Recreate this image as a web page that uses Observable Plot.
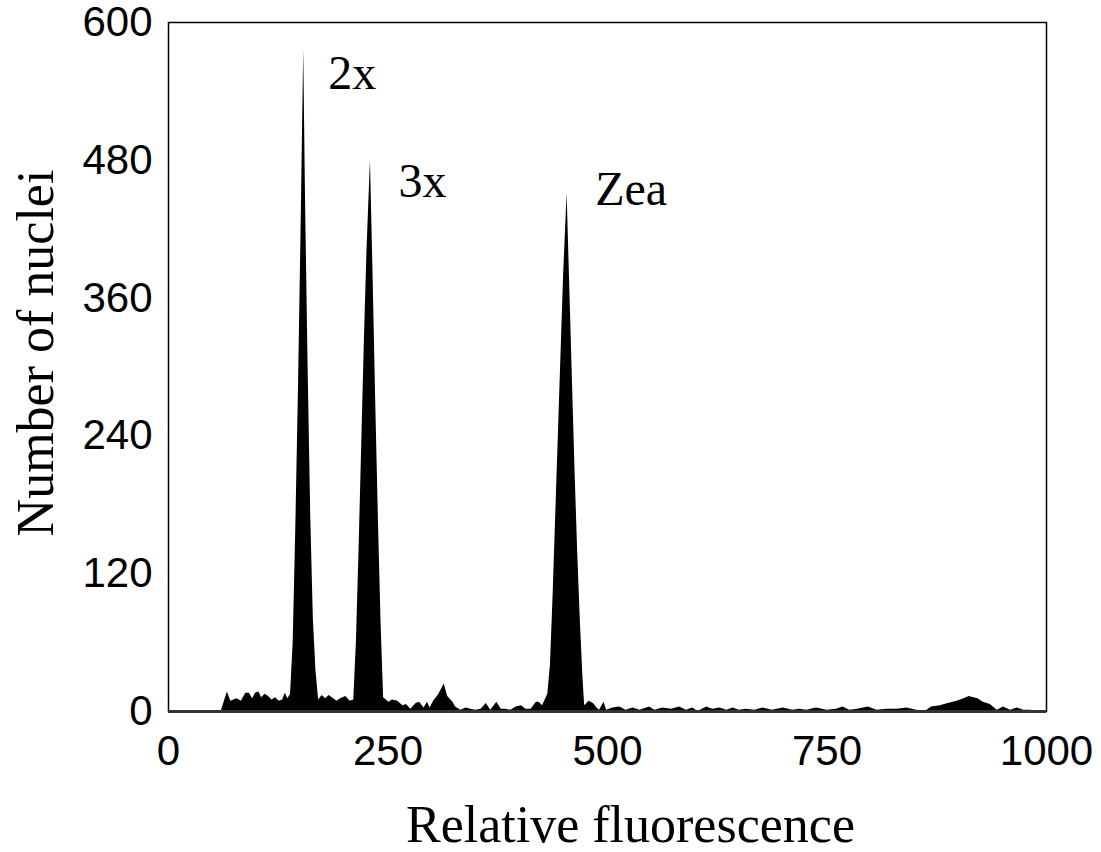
<!DOCTYPE html>
<html>
<head>
<meta charset="utf-8">
<script src="https://cdn.jsdelivr.net/npm/d3@7"></script>
<script src="https://cdn.jsdelivr.net/npm/@observablehq/plot@0.6"></script>
<style>
  html, body { margin: 0; padding: 0; background: white; }
</style>
</head>
<body>
<div id="chart"></div>
<script>
// Relative fluorescence channel and number of nuclei
const channel = [0,60,67,71,78,83,88,92,96,99,103,106,110,114,118,122,126,130,133,136,
  139,142,145,148,151,154,156,159,162,165,168,171,
  175,179,183,188,192,196,202,207,
  211,214,217,220,223,226,230,233,236,239,242,245,
  251,255,261,267,271,276,282,286,291,295,298,302,308,314,318,324,327,333,339,344,350,356,362,367,374,379,384,390,396,402,407,413,419,422,426,
  432,435,438,441,444,447,450,454,457,460,463,466,469,472,474,
  479,484,488,491,496,499,506,514,521,529,537,548,554,563,573,582,590,597,603,613,620,628,636,643,650,658,668,677,688,700,711,719,727,738,750,761,768,776,785,797,807,818,830,841,852,862,869,879,888,898,906,912,917,922,928,936,944,951,959,967,974,982,990,995];
const nuclei = [0,0,17,9,11,9,16,16,11,16,17,12,15,13,10,12,9,10,16,11,
  15,60,160,280,420,576,450,300,170,80,35,10,
  14,11,14,11,9,11,13,9,
  10,60,140,230,320,400,480,380,270,170,80,12,
  8,10,9,5,6,2,7,8,3,8,3,9,15,24,13,8,4,1,3,2,1,2,7,1,8,2,2,1,4,5,2,2,8,8,5,
  15,40,100,170,240,310,380,451,370,290,210,140,80,30,5,
  9,7,3,1,8,1,3,4,1,3,1,4,1,3,2,4,1,3,0,4,2,3,1,3,1,2,1,3,1,3,1,2,1,3,1,2,4,1,2,4,1,2,2,3,1,0,4,5,7,9,11,13,12,11,8,6,1,4,1,3,1,1,0,0];

const xTicks = [0, 250, 500, 750, 1000];
const yTicks = [0, 120, 240, 360, 480, 600];

const peakLabels = ["2x", "3x", "Zea"];
const peakLabelX = [182, 262, 486];
const peakLabelY = [542, 448, 441];

const xTitle = "Relative fluorescence";
const yTitle = "Number of nuclei";

const histogram = channel.map((c, i) => ({channel: c, nuclei: nuclei[i]}));
const labels = peakLabels.map((t, i) => ({text: t, x: peakLabelX[i], y: peakLabelY[i]}));

const sans = "'Liberation Sans', Arial, sans-serif";
const serif = "'Liberation Serif', 'Times New Roman', serif";

const chart = Plot.plot({
  width: 1101,
  height: 852,
  marginLeft: 168,
  marginRight: 55,
  marginTop: 22,
  marginBottom: 141,
  style: {background: "white", color: "black"},
  x: {domain: [0, 1000]},
  y: {domain: [0, 600]},
  marks: [
    Plot.areaY(histogram, {x: "channel", y: "nuclei", fill: "black", curve: "linear"}),
    Plot.frame({stroke: "black", strokeWidth: 1.5}),
    Plot.ruleY([0], {stroke: "#333", strokeWidth: 3}),
    Plot.axisX({ticks: xTicks, tickFormat: d => String(d), tickSize: 0, tickPadding: 24, label: null, fontSize: 42, fontFamily: sans}),
    Plot.axisY({ticks: yTicks, tickFormat: d => String(d), tickSize: 0, tickPadding: 16, label: null, fontSize: 42, fontFamily: sans}),
    Plot.text(labels, {x: "x", y: "y", text: "text", textAnchor: "start", lineAnchor: "bottom", fontSize: 48, fontFamily: serif}),
    Plot.text([xTitle], {frameAnchor: "bottom", textAnchor: "middle", dx: 23, dy: 130, lineAnchor: "bottom", fontSize: 52, fontFamily: serif}),
    Plot.text([yTitle], {frameAnchor: "left", textAnchor: "middle", rotate: -90, dx: -116, dy: -14, lineAnchor: "bottom", fontSize: 52, fontFamily: serif})
  ]
});
document.getElementById("chart").appendChild(chart);
</script>
</body>
</html>
